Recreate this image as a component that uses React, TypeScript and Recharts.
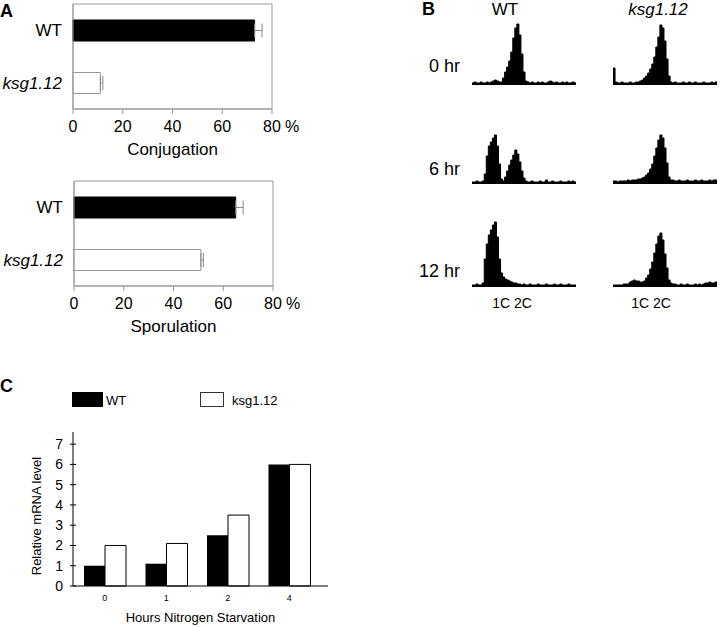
import React from 'react';
import {
  BarChart,
  Bar,
  XAxis,
  YAxis,
  ErrorBar,
  Cell,
  ReferenceArea,
  AreaChart,
  Area,
  Label,
  Legend,
} from 'recharts';

const FONT = '"Liberation Sans", Arial, Helvetica, sans-serif';

// ---------- Panel A ----------
const strains = ['WT', 'ksg1.12'];
const conjugationPct = [73, 11];
const conjugationErr = [3, 1];
const sporulationPct = [65, 51];
const sporulationErr = [3, 1];
const percentTicks = [0, 20, 40, 60, 80];

// ---------- Panel B (FACS histograms, cell counts per channel bin) ----------
const timePoints = ['0 hr', '6 hr', '12 hr'];
const dnaContentLabel = '1C 2C';
const wtHist0 = [
  2, 3, 2, 2, 3, 2, 2, 3, 2, 3,
  4, 5, 4, 3, 3,
  7, 13, 18, 24, 33, 47, 57, 61, 50, 31, 13, 4, 3,
  2, 3, 2, 2, 3, 2, 3, 2, 2, 3, 4, 3, 2, 3, 2, 2, 3, 2, 3, 2, 2, 3, 2, 3,
];
const wtHist6 = [
  2, 2, 3, 2, 2, 3,
  10, 28, 38, 42, 46, 49, 38, 20, 5,
  3,
  7, 13, 19, 24, 29, 34, 30, 22, 13, 6, 3,
  2, 2, 3, 2, 2, 2, 3, 2, 2, 4, 2, 2, 3, 2, 2, 2, 3, 2, 2, 2, 3, 2, 3, 2, 2,
];
const wtHist12 = [
  2, 2, 3, 2, 2, 4,
  28, 43, 52, 57, 62, 65, 50, 28,
  14, 10, 8, 7, 6, 5, 4, 4, 3,
  3, 2, 3, 2, 2, 3, 2, 2, 2, 3, 2, 2, 2, 3, 2, 2, 2, 3, 2, 2, 3, 2, 2, 2, 3, 2, 2, 2, 2,
];
const ksgHist0 = [
  17,
  3, 2, 2, 3, 2, 2, 2, 3, 2, 2, 3, 3, 4,
  5, 7, 9, 12, 16, 21, 28, 38, 48, 60, 57, 44, 26, 9, 3,
  2, 3, 2, 2, 2, 3, 2, 2, 3, 2, 2, 3, 2, 2, 2, 3, 2, 2, 2, 3, 2, 3, 2,
];
const ksgHist6 = [
  3, 3, 2, 3, 3, 3, 3, 4, 3, 4, 4, 4, 5, 5,
  6, 7, 9, 11, 15, 20, 28, 36, 44, 49, 46, 36, 21, 7, 4, 4,
  3, 3, 4, 3, 3, 3, 4, 3, 3, 3, 4, 3, 3, 4, 3, 3, 3, 4, 3, 4, 4, 3,
];
const ksgHist12 = [
  2, 2, 2, 2, 2, 3, 3, 3,
  5, 6, 7, 6, 6, 5, 5, 6,
  9, 12, 18, 25, 34, 43, 51, 54, 47, 33, 19, 7, 4, 3,
  3, 2, 2, 3, 2, 2, 3, 2, 2, 2, 3, 2, 3, 2, 3, 4, 4, 5, 4, 4, 5, 4,
];
const wtHists = [wtHist0, wtHist6, wtHist12];
const ksgHists = [ksgHist0, ksgHist6, ksgHist12];

// ---------- Panel C ----------
const starvationHours = ['0', '1', '2', '4'];
const wtMRNA = [1, 1.1, 2.5, 6];
const ksgMRNA = [2, 2.1, 3.5, 6];
const mrnaTicks = [0, 1, 2, 3, 4, 5, 6, 7];

// ---------- tick renderers ----------
const PercentTick = (props: any) => {
  const { x, y, payload } = props;
  return (
    <g>
      <text x={x} y={y} dy={18} textAnchor="middle" fontSize={16} fontFamily={FONT} fill="#000">
        {payload.value}
      </text>
      {payload.value === 80 && (
        <text x={x + 13} y={y} dy={18} fontSize={16} fontFamily={FONT} fill="#000">
          %
        </text>
      )}
    </g>
  );
};

const StrainTick = (props: any) => {
  const { x, y, payload } = props;
  return (
    <text
      x={x - 11}
      y={y}
      dy={6}
      textAnchor="end"
      fontSize={17}
      fontFamily={FONT}
      fontStyle={payload.value === 'WT' ? 'normal' : 'italic'}
      fill="#000"
    >
      {payload.value}
    </text>
  );
};

const MrnaTick = (props: any) => {
  const { x, y, payload } = props;
  return (
    <g>
      <line x1={x - 3} x2={x + 3} y1={y} y2={y} stroke="#000" />
      <text x={x - 10} y={y} dy={5} textAnchor="end" fontSize={14} fontFamily={FONT} fill="#000">
        {payload.value}
      </text>
    </g>
  );
};

const HourTick = (props: any) => {
  const { x, y, payload } = props;
  return (
    <text x={x} y={y} dy={15} textAnchor="middle" fontSize={9} fontFamily={FONT} fill="#000">
      {payload.value}
    </text>
  );
};

// ---------- Panel A chart ----------
function StrainChart({ values, errs, title }: { values: number[]; errs: number[]; title: string }) {
  // one-sided (outward) error bars as in the figure
  const data = strains.map((s, i) => ({ strain: s, value: values[i], err: [0, errs[i]] }));
  return (
    <BarChart
      width={310}
      height={165}
      data={data}
      layout="vertical"
      margin={{ top: 4, right: 38, bottom: 0, left: 0 }}
    >
      <XAxis
        type="number"
        domain={[0, 80]}
        ticks={percentTicks}
        interval={0}
        height={56}
        tickSize={5}
        tickMargin={0}
        axisLine={{ stroke: '#999' }}
        tickLine={{ stroke: '#999' }}
        tick={<PercentTick />}
      >
        <Label value={title} position="insideBottom" offset={10} fontSize={17} fontFamily={FONT} fill="#000" />
      </XAxis>
      <YAxis
        type="category"
        dataKey="strain"
        width={73}
        tickSize={0}
        tickMargin={0}
        tickLine={false}
        axisLine={{ stroke: '#999' }}
        tick={<StrainTick />}
      />
      <ReferenceArea x1={0} x2={80} fill="none" stroke="#999" strokeWidth={1} />
      <Bar dataKey="value" barSize={21} isAnimationActive={false}>
        {data.map((d, i) => (
          <Cell key={d.strain} fill={i === 0 ? '#000' : '#fff'} stroke={i === 0 ? '#000' : '#999'} />
        ))}
        <ErrorBar dataKey="err" direction="x" width={7} stroke="#888" strokeWidth={1} />
      </Bar>
    </BarChart>
  );
}

// ---------- Panel B histogram ----------
function Histogram({ counts }: { counts: number[] }) {
  const data = counts.map((c, i) => ({ bin: i, count: c }));
  return (
    <AreaChart width={104} height={66} data={data} margin={{ top: 0, right: 0, bottom: 0, left: 0 }}>
      <XAxis dataKey="bin" type="number" domain={[0, counts.length - 1]} hide />
      <YAxis domain={[0, 66]} hide />
      <Area
        type="stepAfter"
        dataKey="count"
        fill="#000"
        fillOpacity={1}
        stroke="#000"
        strokeWidth={1}
        isAnimationActive={false}
      />
    </AreaChart>
  );
}

const LegendContent = (props: any) => {
  const payload = props.payload || [];
  const boxes = [
    { left: 72, width: 31, textLeft: 106 },
    { left: 200, width: 24, textLeft: 232 },
  ];
  return (
    <div style={{ position: 'relative', width: 340, height: 45, fontFamily: FONT }}>
      {payload.map((p: any, i: number) => (
        <React.Fragment key={p.value}>
          <div
            style={{
              position: 'absolute',
              left: boxes[i].left,
              top: 22,
              width: boxes[i].width,
              height: 15,
              boxSizing: 'border-box',
              background: i === 0 ? '#000' : '#fff',
              border: i === 0 ? 'none' : '1px solid #333',
            }}
          />
          <span
            style={{
              position: 'absolute',
              left: boxes[i].textLeft,
              top: 23,
              lineHeight: '15px',
              fontSize: 13,
              color: '#000',
              whiteSpace: 'nowrap',
            }}
          >
            {p.value}
          </span>
        </React.Fragment>
      ))}
    </div>
  );
};

function MrnaChart() {
  const data = starvationHours.map((h, i) => ({ hours: h, wt: wtMRNA[i], ksg: ksgMRNA[i] }));
  return (
    <BarChart
      width={340}
      height={257}
      data={data}
      margin={{ top: 62, right: 12, bottom: 0, left: 0 }}
      barGap={0}
    >
      <XAxis
        dataKey="hours"
        height={41}
        padding={{ left: 1, right: 8 }}
        interval={0}
        tickLine={false}
        tickSize={0}
        tickMargin={0}
        axisLine={{ stroke: '#000' }}
        tick={<HourTick />}
      >
        <Label value="Hours Nitrogen Starvation" position="insideBottom" offset={5} fontSize={13} fontFamily={FONT} fill="#000" />
      </XAxis>
      <YAxis
        width={73}
        domain={[0, 7.6]}
        ticks={mrnaTicks}
        interval={0}
        tickLine={false}
        tickSize={0}
        tickMargin={0}
        axisLine={{ stroke: '#000' }}
        tick={<MrnaTick />}
      >
        <Label
          content={() => (
            <text
              x={41}
              y={146}
              transform="rotate(-90 41 146)"
              textAnchor="middle"
              fontSize={13}
              fontFamily={FONT}
              fill="#000"
            >
              Relative mRNA level
            </text>
          )}
        />
      </YAxis>
      <Legend
        verticalAlign="middle"
        align="center"
        layout="horizontal"
        wrapperStyle={{ left: 0, top: 0, width: 340, height: 45 }}
        content={<LegendContent />}
      />
      <Bar dataKey="wt" name="WT" fill="#000" barSize={21} isAnimationActive={false} />
      <Bar dataKey="ksg" name="ksg1.12" fill="#fff" stroke="#000" strokeWidth={1} barSize={21} isAnimationActive={false} />
    </BarChart>
  );
}

const rowTops = [19, 118, 221];
const rowBaselines = [72, 175, 277];

export default function App() {
  return (
    <div
      style={{
        position: 'absolute',
        left: 0,
        top: 0,
        width: 720,
        height: 627,
        background: '#fff',
        fontFamily: FONT,
        overflow: 'hidden',
      }}
    >
      {/* Panel A */}
      <div style={{ position: 'absolute', left: 0, top: 0 }}>
        <StrainChart values={conjugationPct} errs={conjugationErr} title="Conjugation" />
      </div>
      <div style={{ position: 'absolute', left: 1, top: 177 }}>
        <StrainChart values={sporulationPct} errs={sporulationErr} title="Sporulation" />
      </div>

      {/* Panel B */}
      {wtHists.map((h, i) => (
        <div key={'wt' + i} style={{ position: 'absolute', left: 472, top: rowTops[i] }}>
          <Histogram counts={h} />
        </div>
      ))}
      {ksgHists.map((h, i) => (
        <div key={'ksg' + i} style={{ position: 'absolute', left: 613, top: rowTops[i] }}>
          <Histogram counts={h} />
        </div>
      ))}

      {/* Panel C */}
      <div style={{ position: 'absolute', left: 0, top: 370 }}>
        <MrnaChart />
      </div>

      {/* Labels */}
      <svg
        width={720}
        height={627}
        style={{ position: 'absolute', left: 0, top: 0, pointerEvents: 'none' }}
        fontFamily={FONT}
      >
        <text x={0} y={17} fontSize={18} fontWeight="bold" fill="#000">A</text>
        <text x={422} y={15} fontSize={18} fontWeight="bold" fill="#000">B</text>
        <text x={0} y={392} fontSize={18} fontWeight="bold" fill="#000">C</text>
        <text x={505} y={15} fontSize={17} textAnchor="middle" fill="#000">{strains[0]}</text>
        <text x={658} y={15} fontSize={17} textAnchor="middle" fontStyle="italic" fill="#000">{strains[1]}</text>
        {timePoints.map((t, i) => (
          <text key={t} x={460} y={rowBaselines[i]} fontSize={18} textAnchor="end" fill="#000">{t}</text>
        ))}
        <text x={512} y={308} fontSize={14} textAnchor="middle" fill="#000">{dnaContentLabel}</text>
        <text x={651} y={308} fontSize={14} textAnchor="middle" fill="#000">{dnaContentLabel}</text>
      </svg>
    </div>
  );
}
